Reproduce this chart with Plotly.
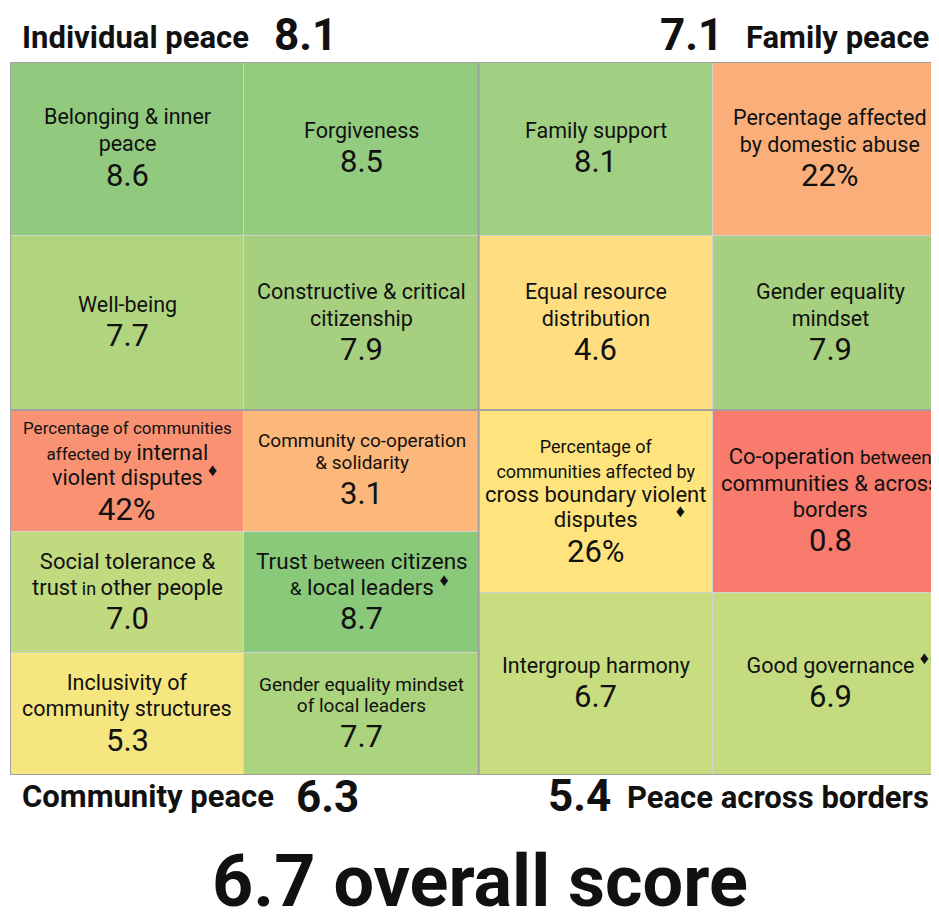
import math
import plotly.graph_objects as go

# ---------------- data ----------------
domain_names = ["Individual peace", "Family peace", "Community peace", "Peace across borders"]
domain_scores = [8.1, 7.1, 6.3, 5.4]
overall_score = 6.7

indicator_domains = [0, 0, 0, 0,
                     1, 1, 1, 1,
                     2, 2, 2, 2, 2, 2,
                     3, 3, 3, 3]
indicator_labels = [
    "Belonging & inner<br>peace",
    "Forgiveness",
    "Well-being",
    "Constructive & critical<br>citizenship",
    "Family support",
    "Percentage affected<br>by domestic abuse",
    "Equal resource<br>distribution",
    "Gender equality<br>mindset",
    "Percentage of communities<br>affected by internal<br>violent disputes",
    "Community co-operation<br>& solidarity",
    "Social tolerance &<br>trust in other people",
    "Trust between citizens<br>& local leaders",
    "Inclusivity of<br>community structures",
    "Gender equality mindset<br>of local leaders",
    "Percentage of<br>communities affected by<br>cross boundary violent<br>disputes",
    "Co-operation between<br>communities & across<br>borders",
    "Intergroup harmony",
    "Good governance",
]
indicator_values = [8.6, 8.5, 7.7, 7.9,
                    8.1, 22, 4.6, 7.9,
                    42, 3.1, 7.0, 8.7, 5.3, 7.7,
                    26, 0.8, 6.7, 6.9]
indicator_units = ["", "", "", "",
                   "", "%", "", "",
                   "%", "", "", "", "", "",
                   "%", "", "", ""]
indicator_flagged = [False, False, False, False,
                     False, False, False, False,
                     True, False, False, True, False, False,
                     True, False, False, True]
indicator_colors = ["#91ca7e", "#93cb7f", "#b0d57e", "#a6d07f",
                    "#a1d083", "#faaf7b", "#fede80", "#a6d07f",
                    "#f99273", "#fcb77a", "#c2da7f", "#8ac97a", "#f5e680", "#acd47e",
                    "#ffe47d", "#f87b6e", "#c8dc80", "#c4db80"]

# ---------------- styling / layout constants ----------------
FONT = "Roboto"
OFF = 8                      # page offset of the figure inside the browser window
W, H = 939 - OFF, 914 - OFF
GRID_L, GRID_T, GRID_B = 10, 62, 775      # grid edges in window pixels
COL_W = 234.33
HALF_H = [348, 365]                       # heights of top / bottom halves (px)
DOMAIN_POS = [(0, 0), (2, 0), (0, 1), (2, 1)]  # (first column, half)
LABEL_SIZE = [21.5, 21.5, 21.5, 21.5, 21.5, 21.5, 21.5, 21.5, 21.5, 19,
              22, 22.5, 21.5, 19, 22, 22, 21.5, 21.5]
LINE_GAP = [26.5, 26.5, 26.5, 27, 26.5, 27, 27, 27, 25.5, 22,
            26, 26, 26, 21, 24.5, 26.5, 26.5, 26.5]
VALUE_SIZE = 31
SMALL_PARTS = {
    8: [("Percentage of communities", 17), ("affected by", 17)],
    10: [(" in ", 18)],
    11: [("between", 19), ("&", 19)],
    14: [("Percentage of", 18), ("communities affected by", 18)],
    15: [("between", 19)],
}
FLAG_GAP = {14: 7}

ML, MT = GRID_L - OFF, GRID_T - OFF
MB = H - (GRID_B - OFF)
PW, PH = W - ML, H - MT - MB


def paper_x(sx):
    return (sx - OFF - ML) / PW


def paper_y(sy):
    return (GRID_B - sy) / PH


def styled_label(i):
    txt = indicator_labels[i]
    for part, size in SMALL_PARTS.get(i, []):
        txt = txt.replace(part, f"<span style='font-size:{size}px'>{part}</span>", 1)
    return txt


def flag_line(line, n_gap):
    d = "<span style='font-size:18px'>\u2666</span>"
    gap = "\u00a0" * n_gap
    return (f"<span style='color:rgba(0,0,0,0)'>{d}{gap}</span>" + line +
            f"{gap}<sup>{d}</sup>")


# ---------------- geometry from data ----------------
xs, bases, heights = [], [], []
annotations = []
for d in range(len(domain_names)):
    idx = [i for i, dd in enumerate(indicator_domains) if dd == d]
    col0, half = DOMAIN_POS[d]
    rows = math.ceil(len(idx) / 2)
    row_h = HALF_H[half] / rows
    top = sum(HALF_H[:half])
    for k, i in enumerate(idx):
        c = col0 + k % 2
        r = k // 2
        y0 = top + r * row_h
        xs.append(c + 0.5)
        bases.append(y0)
        heights.append(row_h)
        cy = y0 + row_h / 2 - 1
        fs = LABEL_SIZE[i]
        step = LINE_GAP[i]
        lines = styled_label(i).split("<br>")
        L = len(lines)
        if indicator_flagged[i]:
            lines[-1] = flag_line(lines[-1], FLAG_GAP.get(i, 1))
        lines = [f"<span style='font-size:{fs}px'>{ln}</span>" for ln in lines]
        gap_v = 1.13 * VALUE_SIZE
        block = 0.68 * fs + step * (L - 1) + gap_v
        vb = cy - block / 2 + 0.68 * fs + step * (L - 1) + gap_v
        last_base = vb - gap_v
        annotations.append(dict(
            x=c + 0.5, y=last_base + 0.244 * fs, xref="x", yref="y",
            text="<br>".join(lines), showarrow=False,
            xanchor="center", yanchor="bottom", align="center",
            borderpad=0, borderwidth=0,
            font=dict(family=FONT, size=step / 1.3, color="#111111")))
        v = indicator_values[i]
        vtxt = (f"{v:.0f}" if indicator_units[i] == "%" else f"{v:.1f}") + indicator_units[i]
        annotations.append(dict(
            x=c + 0.5, y=vb + 0.244 * VALUE_SIZE, xref="x", yref="y",
            text=vtxt, showarrow=False, xanchor="center", yanchor="bottom",
            borderpad=0, borderwidth=0,
            font=dict(family=FONT, size=VALUE_SIZE, color="#111111")))

fig = go.Figure(go.Bar(
    x=xs, y=heights, base=bases, width=1.0,
    marker=dict(color=indicator_colors, line=dict(color="#d2d2d2", width=1)),
    hoverinfo="skip", showlegend=False))

# domain headings (window pixel positions)
NAME_SIZE, SCORE_SIZE = 31, 44
head_specs = [
    # (name x, name anchor, score x, score anchor, name baseline, score baseline)
    (22, "left", 274, "left", 48, 50),
    (929, "right", 723, "right", 48, 50),
    (22, "left", 296, "left", 807, 812),
    (929, "right", 611, "right", 808, 811),
]
for d, (nx, na, sx, sa, nb, sb) in enumerate(head_specs):
    annotations.append(dict(
        x=paper_x(nx), y=paper_y(nb + 0.244 * NAME_SIZE), xref="paper", yref="paper",
        text=f"<b>{domain_names[d]}</b>", showarrow=False,
        xanchor=na, yanchor="bottom", borderpad=0, borderwidth=0,
        font=dict(family=FONT, size=NAME_SIZE, color="#111111")))
    annotations.append(dict(
        x=paper_x(sx), y=paper_y(sb + 0.244 * SCORE_SIZE), xref="paper", yref="paper",
        text=f"<b>{domain_scores[d]:.1f}</b>", showarrow=False,
        xanchor=sa, yanchor="bottom", borderpad=0, borderwidth=0,
        font=dict(family=FONT, size=SCORE_SIZE, color="#111111")))

OVERALL_SIZE = 72
annotations.append(dict(
    x=paper_x(480), y=paper_y(906 - 0.928 * OVERALL_SIZE), xref="paper", yref="paper",
    text=f"<b>{overall_score:.1f} overall score</b>", showarrow=False,
    xanchor="center", yanchor="top", borderpad=0, borderwidth=0,
    font=dict(family=FONT, size=OVERALL_SIZE, color="#111111")))

total_h = sum(HALF_H)
shapes = [
    dict(type="rect", xref="x", yref="y", x0=0, x1=4, y0=0, y1=total_h,
         line=dict(color="#a0a0a0", width=2)),
    dict(type="line", xref="x", yref="y", x0=2, x1=2, y0=0, y1=total_h,
         line=dict(color="#a0a0a0", width=2)),
    dict(type="line", xref="x", yref="y", x0=0, x1=4, y0=HALF_H[0], y1=HALF_H[0],
         line=dict(color="#a0a0a0", width=2)),
]

fig.update_layout(
    width=W, height=H,
    margin=dict(l=ML, r=0, t=MT, b=MB, pad=0),
    paper_bgcolor="white", plot_bgcolor="white",
    barmode="overlay", bargap=0,
    xaxis=dict(range=[0, PW / COL_W], visible=False, fixedrange=True),
    yaxis=dict(range=[total_h, 0], visible=False, fixedrange=True),
    annotations=annotations, shapes=shapes,
    font=dict(family=FONT),
)

fig.write_html("out.html")
